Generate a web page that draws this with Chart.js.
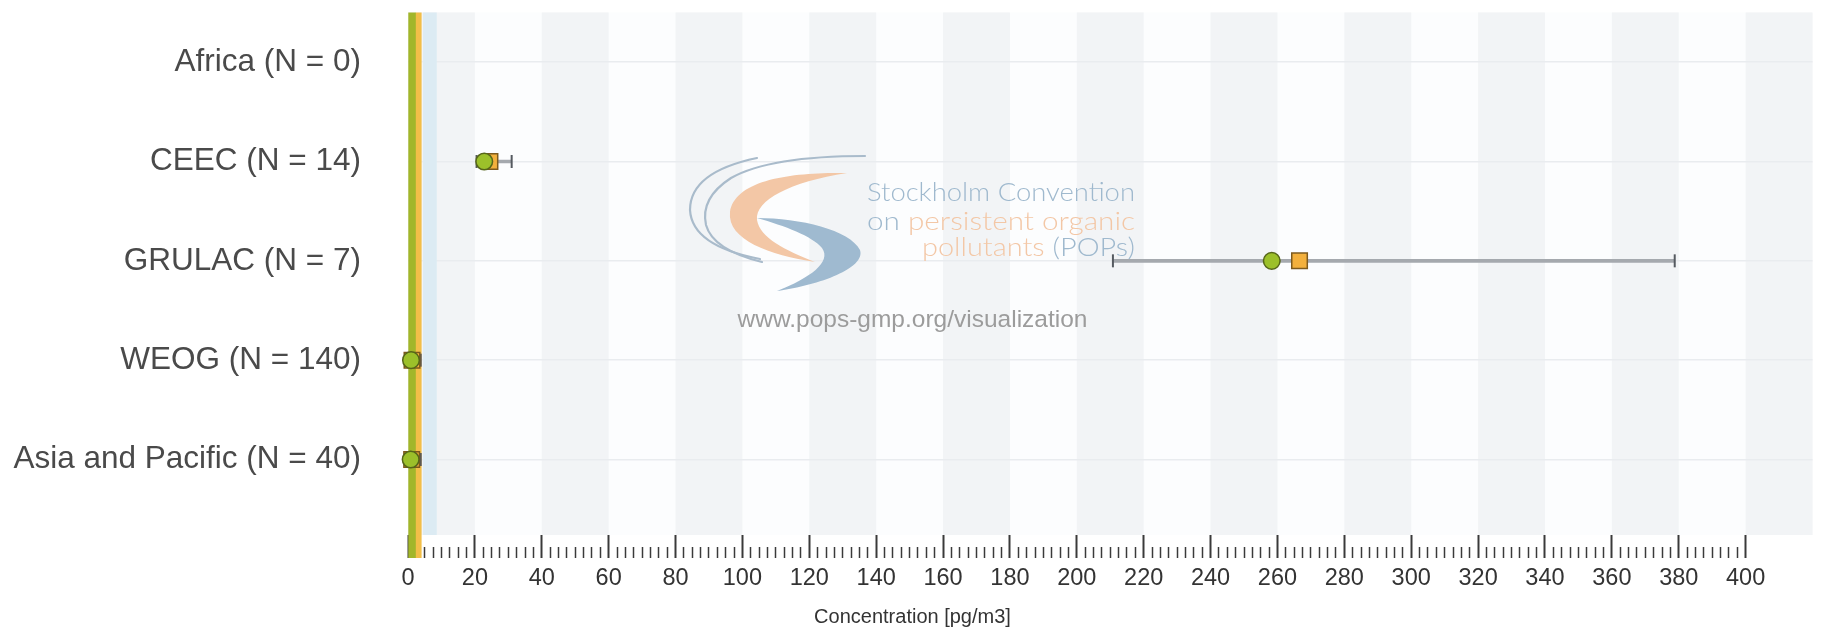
<!DOCTYPE html>
<html>
<head>
<meta charset="utf-8">
<title>Concentration by UN region</title>
<script src="https://cdn.jsdelivr.net/npm/chart.js@4.4.0/dist/chart.umd.min.js"></script>
<style>
  html, body { margin: 0; padding: 0; background: #ffffff; }
  #wrap { width: 1825px; height: 633px; position: relative; }
</style>
</head>
<body>
<div id="wrap"><canvas id="chart"></canvas></div>
<script>
// ---- data -------------------------------------------------------------
const regions       = ['Africa', 'CEEC', 'GRULAC', 'WEOG', 'Asia and Pacific'];
const sampleCounts  = [0, 14, 7, 140, 40];
const minValues     = [null, 20.5, 210.8, 0.2, 0.2];
const maxValues     = [null, 31.0, 378.8, 3.8, 3.8];
const medianValues  = [null, 22.8, 258.3, 0.9, 0.8];
const meanValues    = [null, 24.5, 266.6, 1.2, 1.1];

// overall reference lines (median, mean) and reference range
const guideLineValues = [1.24, 3.2];
const guideRange      = [4.5, 8.6];

// x axis labelled ticks
const xTickLabels = [0, 20, 40, 60, 80, 100, 120, 140, 160, 180, 200,
                     220, 240, 260, 280, 300, 320, 340, 360, 380, 400];
const xMinorStep = 2.5;

// ---- helpers ----------------------------------------------------------
const FONT = "'Liberation Sans', Arial, Helvetica, sans-serif";
Chart.defaults.font.family = FONT;

const withData = regions.map((_, i) => i).filter(i => medianValues[i] !== null);
const isMajor = v => xTickLabels.some(t => Math.abs(t - v) < 1e-6);

const xTickValues = [];
for (let v = xTickLabels[0]; v <= xTickLabels[xTickLabels.length - 1] + 1e-9; v += xMinorStep) {
  xTickValues.push(+v.toFixed(4));
}

// ---- decorations: alternating bands, guide lines, watermark -----------
function drawSegments(ctx, segs, x, y, targetWidth) {
  const total = segs.reduce((s, seg) => s + ctx.measureText(seg[0]).width, 0);
  const k = targetWidth / total;
  ctx.save();
  ctx.translate(x, y);
  ctx.scale(k, 1);
  let cx = 0;
  for (const [t, c] of segs) {
    ctx.fillStyle = c;
    ctx.fillText(t, cx, 0);
    cx += ctx.measureText(t).width;
  }
  ctx.restore();
}

function drawWatermark(ctx, centerX) {
  const dx = centerX - 912.5;
  const blue = '#9fb9ce', orange = '#f3c7a6', arc = '#a9bbcb';
  ctx.save();
  ctx.translate(dx, 0);

  // swoosh logo
  ctx.strokeStyle = arc;
  ctx.lineWidth = 2.2;
  ctx.lineCap = 'round';
  ctx.beginPath();
  ctx.moveTo(757, 158);
  ctx.quadraticCurveTo(690, 172, 690, 210);
  ctx.quadraticCurveTo(692, 246, 760, 259);
  ctx.stroke();
  ctx.beginPath();
  ctx.moveTo(865, 156);
  ctx.quadraticCurveTo(770, 156, 731, 178);
  ctx.quadraticCurveTo(700, 198, 706, 225);
  ctx.quadraticCurveTo(713, 250, 762, 262);
  ctx.stroke();

  ctx.fillStyle = orange;
  ctx.beginPath();
  ctx.moveTo(847, 173);
  ctx.bezierCurveTo(790, 172, 735, 180, 730, 212);
  ctx.bezierCurveTo(727, 240, 770, 255, 815, 262);
  ctx.bezierCurveTo(785, 250, 760, 238, 757, 220);
  ctx.bezierCurveTo(755, 200, 790, 182, 847, 173);
  ctx.closePath();
  ctx.fill();

  ctx.fillStyle = '#9fbad0';
  ctx.beginPath();
  ctx.moveTo(757, 218);
  ctx.bezierCurveTo(800, 218, 850, 230, 860, 250);
  ctx.bezierCurveTo(866, 268, 820, 285, 777, 291);
  ctx.bezierCurveTo(810, 278, 832, 262, 822, 248);
  ctx.bezierCurveTo(812, 236, 785, 226, 757, 218);
  ctx.closePath();
  ctx.fill();

  // convention name
  ctx.font = "300 26px Lato, 'DejaVu Sans', sans-serif";
  ctx.textBaseline = 'alphabetic';
  ctx.textAlign = 'left';
  drawSegments(ctx, [['Stockholm Convention', blue]], 867, 201, 268);
  drawSegments(ctx, [['on ', blue], ['persistent organic', orange]], 867, 230, 268);
  drawSegments(ctx, [['pollutants ', orange], ['(POPs)', blue]], 922, 256, 213);

  // site address
  ctx.font = "24.5px " + FONT;
  ctx.fillStyle = '#9c9c9c';
  ctx.textAlign = 'center';
  ctx.fillText('www.pops-gmp.org/visualization', 912.5, 327);
  ctx.restore();
}

const plotDecor = {
  id: 'plotDecor',
  beforeDraw(chart) {
    const { ctx, chartArea: a, scales: { x } } = chart;
    ctx.save();
    ctx.fillStyle = '#fcfdfe';
    ctx.fillRect(a.left, a.top, a.right - a.left, a.bottom - a.top);
    ctx.fillStyle = '#f2f4f6';
    for (let v = x.min; v < x.max; v += 40) {
      const l = x.getPixelForValue(v);
      const r = x.getPixelForValue(Math.min(v + 20, x.max));
      ctx.fillRect(l, a.top, r - l, a.bottom - a.top);
    }
    ctx.restore();
  },
  beforeDatasetsDraw(chart) {
    const { ctx, chartArea: a, scales: { x } } = chart;
    ctx.save();
    drawWatermark(ctx, chart.width / 2);

    // reference range
    const r0 = x.getPixelForValue(guideRange[0]);
    const r1 = x.getPixelForValue(guideRange[1]);
    ctx.fillStyle = '#dcebf3';
    ctx.fillRect(r0, a.top, r1 - r0, a.bottom - a.top);

    // reference lines (overall median, overall mean)
    const lineStyles = [
      { color: '#a2b62a', width: 7.7 },
      { color: '#f2be48', width: 5.8 }
    ];
    guideLineValues.forEach((v, i) => {
      const px = x.getPixelForValue(v);
      ctx.fillStyle = lineStyles[i].color;
      ctx.fillRect(px - lineStyles[i].width / 2, a.top, lineStyles[i].width, a.bottom - a.top + 23);
    });
    ctx.restore();
  }
};

// ---- chart ------------------------------------------------------------
new Chart(document.getElementById('chart'), {
  type: 'scatter',
  data: {
    datasets: [
      {
        label: 'Median',
        data: withData.map(i => ({ x: medianValues[i], y: i })),
        pointStyle: 'circle',
        pointRadius: 8.3,
        pointBackgroundColor: '#9cc02a',
        pointBorderColor: '#56661a',
        pointBorderWidth: 1.5,
        clip: false,
        order: 1
      },
      {
        label: 'Mean',
        data: withData.map(i => ({ x: meanValues[i], y: i })),
        pointStyle: 'rect',
        pointRadius: 11,
        pointBackgroundColor: '#f3b03c',
        pointBorderColor: '#7d5a1d',
        pointBorderWidth: 1.5,
        clip: false,
        order: 2
      },
      {
        label: 'Range',
        data: withData.flatMap(i => [{ x: minValues[i], y: i }, { x: maxValues[i], y: i }]),
        pointStyle: 'line',
        pointRotation: 90,
        pointRadius: 6.5,
        pointBorderColor: '#555a60',
        pointBorderWidth: 2,
        clip: false,
        order: 3
      },
      {
        type: 'bar',
        label: 'Whisker',
        indexAxis: 'y',
        data: withData.map(i => ({ y: i, x: [minValues[i], maxValues[i]] })),
        backgroundColor: '#a5a9ae',
        borderWidth: 0,
        barThickness: 3,
        order: 4
      }
    ]
  },
  options: {
    responsive: true,
    maintainAspectRatio: false,
    animation: false,
    events: [],
    layout: { padding: { top: 9, left: 0, right: 0, bottom: 0 } },
    plugins: {
      legend: { display: false },
      tooltip: { enabled: false },
      title: {
        display: true,
        position: 'bottom',
        text: 'Concentration [pg/m3]',
        color: '#333333',
        font: { size: 20, weight: 'normal', family: FONT },
        padding: { top: 0, bottom: 4 }
      }
    },
    scales: {
      x: {
        type: 'linear',
        position: 'bottom',
        min: 0,
        max: 420,
        offset: false,
        afterBuildTicks: s => { s.ticks = xTickValues.map(v => ({ value: v })); },
        afterFit: s => { s.height = 70; s.paddingLeft = 0; s.paddingRight = 0; },
        border: { display: false },
        grid: {
          offset: false,
          drawOnChartArea: false,
          drawTicks: true,
          tickLength: 23,
          tickColor: '#3a3a3a',
          tickWidth: c => (c.tick && isMajor(c.tick.value)) ? 2 : 1.5,
          tickBorderDash: c => (c.tick && isMajor(c.tick.value)) ? [] : [11, 12],
          tickBorderDashOffset: c => (c.tick && isMajor(c.tick.value)) ? 0 : 11
        },
        ticks: {
          autoSkip: false,
          maxRotation: 0,
          minRotation: 0,
          padding: 6,
          color: '#333333',
          font: { size: 23.5 },
          callback: v => isMajor(v) ? String(v) : ''
        }
      },
      y: {
        type: 'linear',
        reverse: true,
        min: -0.5,
        max: 4.76,
        offset: false,
        afterBuildTicks: s => { s.ticks = regions.map((_, i) => ({ value: i })); },
        afterFit: s => { s.width = 408; s.paddingTop = 0; s.paddingBottom = 0; },
        border: { display: false },
        grid: { offset: false, color: '#e9ecef', lineWidth: 1.5, drawTicks: false },
        ticks: {
          autoSkip: false,
          padding: 47,
          color: '#4a4a4a',
          font: { size: 31.5 },
          callback: v => `${regions[v]} (N = ${sampleCounts[v]})`
        }
      }
    }
  },
  plugins: [plotDecor]
});
</script>
</body>
</html>
